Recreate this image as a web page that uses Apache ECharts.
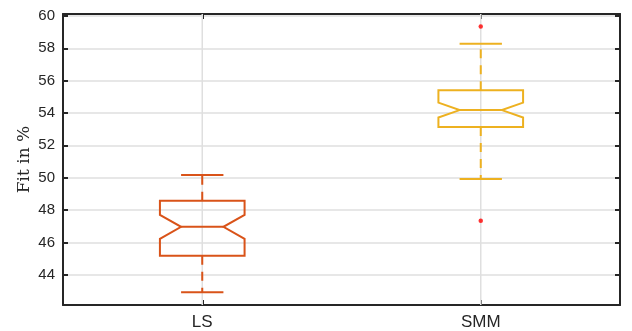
<!DOCTYPE html>
<html>
<head>
<meta charset="utf-8">
<script src="https://cdn.jsdelivr.net/npm/echarts@6/dist/echarts.min.js"></script>
<style>
  html, body { margin: 0; padding: 0; background: #ffffff; }
  #chart { width: 632px; height: 331px; }
</style>
</head>
<body>
<div id="chart"></div>
<script>
// Notched box plot statistics per method
const categories   = ['LS', 'SMM'];
const lowerWhisker = [42.92, 49.92];
const q1           = [45.18, 53.14];
const notchLow     = [46.22, 53.72];
const median       = [46.96, 54.18];
const notchHigh    = [47.70, 54.64];
const q3           = [48.58, 55.40];
const upperWhisker = [50.16, 58.28];

// Outliers: category index and value
const outlierCategory = [1, 1];
const outlierValues   = [59.34, 47.34];

// Value axis
const yTicks = [44, 46, 48, 50, 52, 54, 56, 58, 60];
const yMin = 42.13;
const yMax = 60.12;

const boxColors = ['#D95319', '#EDB120'];
const axisColor = '#262626';
const gridColor = '#dfdfdf';

const boxData = categories.map((c, i) => [
  i, lowerWhisker[i], q1[i], notchLow[i], median[i], notchHigh[i], q3[i], upperWhisker[i]
]);
const outlierData = outlierValues.map((v, k) => [outlierCategory[k], v]);

function renderBox(params, api) {
  const i = api.value(0);
  const x = api.coord([i, api.value(4)])[0];
  const band = api.size([1, 0])[0];
  const hw = band * 0.152;   // half box width
  const nw = hw / 2;         // half width at the notch waist
  const cw = hw / 2;         // half whisker-cap width
  const y = k => api.coord([i, api.value(k)])[1];
  const yLo = y(1), yQ1 = y(2), yNL = y(3), yMed = y(4), yNH = y(5), yQ3 = y(6), yHi = y(7);
  const color = boxColors[i % boxColors.length];
  const cs = params.coordSys;
  const solid = { stroke: color, lineWidth: 2, fill: null };
  const dashed = { stroke: color, lineWidth: 2, lineDash: [9, 7], fill: null };
  return {
    type: 'group',
    children: [
      // vertical grid line through the category
      { type: 'line', shape: { x1: x, y1: cs.y, x2: x, y2: cs.y + cs.height },
        style: { stroke: gridColor, lineWidth: 1.5 } },
      // whiskers
      { type: 'line', shape: { x1: x, y1: yQ3, x2: x, y2: yHi }, style: dashed },
      { type: 'line', shape: { x1: x, y1: yQ1, x2: x, y2: yLo }, style: dashed },
      // caps
      { type: 'line', shape: { x1: x - cw, y1: yHi, x2: x + cw, y2: yHi }, style: solid },
      { type: 'line', shape: { x1: x - cw, y1: yLo, x2: x + cw, y2: yLo }, style: solid },
      // notched box
      { type: 'polygon', shape: { points: [
          [x - hw, yQ3], [x + hw, yQ3], [x + hw, yNH], [x + nw, yMed], [x + hw, yNL],
          [x + hw, yQ1], [x - hw, yQ1], [x - hw, yNL], [x - nw, yMed], [x - hw, yNH]
        ] }, style: solid },
      // median
      { type: 'line', shape: { x1: x - nw, y1: yMed, x2: x + nw, y2: yMed }, style: solid }
    ]
  };
}

const chart = echarts.init(document.getElementById('chart'), null, { renderer: 'canvas' });

const baseX = {
  type: 'category',
  data: categories,
  boundaryGap: true,
  axisLine: { show: true, lineStyle: { color: axisColor, width: 2 } },
  axisTick: { show: true, inside: true, alignWithLabel: true, length: 5,
              lineStyle: { color: axisColor, width: 2 } },
  splitLine: { show: false }
};
const baseY = {
  type: 'value',
  min: yMin,
  max: yMax,
  axisLine: { show: true, lineStyle: { color: axisColor, width: 2 } },
  axisTick: { show: true, inside: true, length: 5, customValues: yTicks,
              lineStyle: { color: axisColor, width: 2 } }
};

chart.setOption({
  animation: false,
  backgroundColor: '#ffffff',
  grid: { left: 63, right: 12, top: 14, bottom: 24, containLabel: false },
  xAxis: [
    Object.assign({}, baseX, {
      position: 'bottom',
      axisLabel: { show: true, fontFamily: 'Liberation Sans', fontSize: 17, color: axisColor, margin: 9 }
    }),
    Object.assign({}, baseX, {
      position: 'top',
      axisLabel: { show: false }
    })
  ],
  yAxis: [
    Object.assign({}, baseY, {
      position: 'left',
      name: 'Fit in %',
      nameLocation: 'middle',
      nameGap: 30,
      nameMoveOverlap: false,
      nameTextStyle: { fontFamily: 'DejaVu Serif', fontSize: 17, color: axisColor },
      axisLabel: { show: true, customValues: yTicks, fontFamily: 'Liberation Sans',
                   fontSize: 15, color: axisColor, margin: 8 },
      splitLine: { show: true, lineStyle: { color: gridColor, width: 1.5 } }
    }),
    Object.assign({}, baseY, {
      position: 'right',
      axisLabel: { show: false },
      splitLine: { show: false }
    })
  ],
  series: [
    {
      type: 'custom',
      renderItem: renderBox,
      data: boxData,
      encode: { x: 0, y: [1, 2, 3, 4, 5, 6, 7] },
      z: 2,
      silent: true
    },
    {
      type: 'scatter',
      data: outlierData,
      symbol: 'circle',
      symbolSize: 4.5,
      itemStyle: { color: '#ff0000' },
      z: 3,
      silent: true
    }
  ]
});
</script>
</body>
</html>
